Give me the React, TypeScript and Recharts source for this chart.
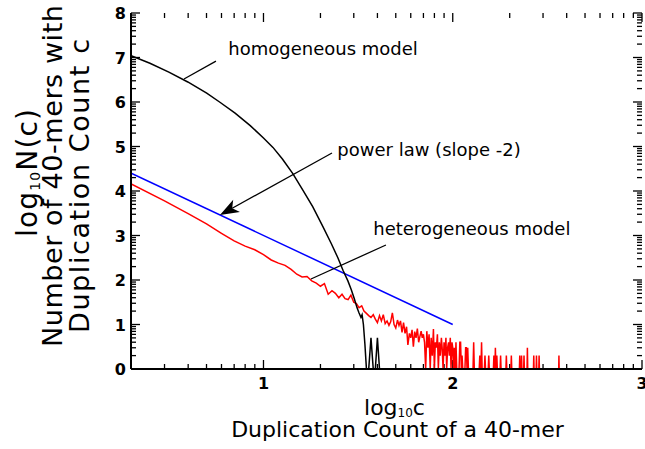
import React from 'react';
import { LineChart, Line, XAxis, YAxis, ReferenceLine, ReferenceDot } from 'recharts';

// ---------- data (x = log10 c, y = log10 N(c)) ----------
const homogeneousLogC = [0.301, 0.4, 0.5, 0.6, 0.7, 0.768, 0.85, 0.93, 1.0, 1.05, 1.1, 1.155, 1.208, 1.26, 1.314, 1.358, 1.393, 1.42, 1.446, 1.464, 1.48, 1.494, 1.505, 1.515, 1.521, 1.528, 1.536, 1.544, 1.556, 1.568, 1.58, 1.591, 1.602, 1.613];
const homogeneousLogN = [7.04, 6.87, 6.67, 6.45, 6.2, 6.0, 5.75, 5.47, 5.19, 4.98, 4.72, 4.39, 4.02, 3.65, 3.2, 2.82, 2.5, 2.22, 1.98, 1.78, 1.58, 1.38, 1.26, 1.16, 1.22, 1.0, 0.55, 0, 0, 0.7, 0, 0, 0.7, 0];

const powerLawLogC = [0.301, 2.0];
const powerLawLogN = [4.4, 1.0];

const heterogeneousLogC = [0.301, 0.477, 0.602, 0.699, 0.778, 0.845, 0.903, 0.954, 1.0, 1.041, 1.079, 1.114, 1.146, 1.176, 1.204, 1.23, 1.255, 1.279, 1.301, 1.322, 1.342, 1.362, 1.38, 1.398, 1.415, 1.431, 1.447, 1.462, 1.477, 1.491, 1.505, 1.519, 1.531, 1.544, 1.556, 1.568, 1.58, 1.591, 1.602, 1.613, 1.623, 1.633, 1.643, 1.653, 1.663, 1.672, 1.681, 1.69, 1.699, 1.708, 1.716, 1.724, 1.732, 1.74, 1.748, 1.756, 1.763, 1.771, 1.778, 1.785, 1.792, 1.799, 1.806, 1.813, 1.82, 1.826, 1.833, 1.839, 1.845, 1.851, 1.857, 1.863, 1.869, 1.875, 1.881, 1.886, 1.892, 1.898, 1.903, 1.908, 1.914, 1.919, 1.924, 1.929, 1.934, 1.94, 1.944, 1.949, 1.954, 1.959, 1.964, 1.968, 1.973, 1.978, 1.982, 1.987, 1.991, 1.996, 2.0];
const heterogeneousLogN = [4.16, 3.78, 3.49, 3.26, 3.05, 2.88, 2.76, 2.68, 2.57, 2.45, 2.38, 2.33, 2.24, 2.13, 2.07, 2.08, 1.98, 1.93, 1.86, 1.92, 1.68, 1.76, 1.7, 1.6, 1.68, 1.58, 1.56, 1.66, 1.5, 1.47, 1.38, 1.42, 1.3, 1.25, 1.2, 1.16, 1.22, 1.12, 1.04, 1.2, 1.08, 1.22, 1.02, 1.08, 0.98, 1.06, 1.26, 1.0, 0.92, 1.1, 0.98, 1.08, 0.82, 1.04, 0.8, 0.95, 0.54, 0.8, 0.7, 0.88, 0.5, 0.84, 0.7, 0.91, 0.6, 0.72, 0.85, 0.7, 0.78, 0.6, 0, 0.85, 0.48, 0.78, 0, 0.7, 0.3, 0.9, 0, 0.6, 0.48, 0.78, 0, 0.6, 0.3, 0.7, 0.48, 0, 0.6, 0.3, 0.7, 0, 0.48, 0.6, 0.3, 0.7, 0, 0.6, 0.48];
// sparse tail: duplication counts c that have N(c) > 1, with log10 N(c)
const tailCounts = [102, 104, 109, 110, 112, 117, 118, 120, 129, 139, 142, 148, 155, 165, 168, 171, 179, 192, 204, 226, 231, 238, 248, 268, 277, 286, 364];
const tailLogN = [0.477, 0.602, 0.602, 0.602, 0.301, 0.477, 0.477, 0.477, 0.602, 0.301, 0.602, 0.301, 0.301, 0.301, 0.477, 0.301, 0.301, 0.301, 0.301, 0.301, 0.301, 0.301, 0.477, 0.301, 0.301, 0.301, 0.301];

const xTickLabels = ['1', '2', '3'];
const yTickLabels = ['0', '1', '2', '3', '4', '5', '6', '7', '8'];
const minorMultipliers = [2, 3, 4, 5, 6, 7, 8, 9];

const annotationTexts = ['homogeneous model', 'power law (slope -2)', 'heterogeneous model'];
const annotationX = [0.814, 1.39, 1.58];
const annotationY = [7.056, 4.787, 3.011];
const leaderFromX = [0.749, 1.362, 1.647];
const leaderFromY = [6.92, 4.854, 2.787];
const leaderToX = [0.58, 0.77, 1.251];
const leaderToY = [6.517, 3.461, 2.022];
const leaderArrow = [false, true, false];

// ---------- build ----------
const zip = (xs: number[], ys: number[]) => xs.map((x, i) => ({ x, y: ys[i] }));
const blackData = zip(homogeneousLogC, homogeneousLogN);
const blueData = zip(powerLawLogC, powerLawLogN);
const redData = zip(heterogeneousLogC, heterogeneousLogN);
redData.push({ x: Math.log10(101), y: 0 });
tailCounts.forEach((c, i) => {
  if (!tailCounts.includes(c - 1) && c - 1 > 101) redData.push({ x: Math.log10(c - 1), y: 0 });
  redData.push({ x: Math.log10(c), y: tailLogN[i] });
  if (!tailCounts.includes(c + 1)) redData.push({ x: Math.log10(c + 1), y: 0 });
});

const xMajor = xTickLabels.map(Number);
const yMajor = yTickLabels.map(Number);
const xMinor: number[] = [];
[0, 1, 2].forEach((d) => minorMultipliers.forEach((m) => {
  const v = d + Math.log10(m);
  if (v > 0.3 && v < 3) xMinor.push(v);
}));
const yMinor: number[] = [];
[0, 1, 2, 3, 4, 5, 6, 7].forEach((d) => minorMultipliers.forEach((m) => yMinor.push(d + Math.log10(m))));

const FONT = '"DejaVu Sans", "Liberation Sans", sans-serif';
const MAJ = 9;
const MIN = 5;
const TW = 1.3;

// tick labels (text only)
const BottomLabel = (p: any) => {
  const { x, y, payload } = p;
  const i = xMajor.indexOf(payload.value);
  if (i < 0) return <g />;
  return (
    <text x={x} y={y + 20} textAnchor="middle" fontFamily={FONT} fontWeight="bold" fontSize={16} fill="#000">
      {xTickLabels[i]}
    </text>
  );
};
const LeftLabel = (p: any) => {
  const { x, y, payload } = p;
  const i = yMajor.indexOf(payload.value);
  if (i < 0) return <g />;
  return (
    <text x={x - 5} y={y + 6} textAnchor="end" fontFamily={FONT} fontWeight="bold" fontSize={16} fill="#000">
      {yTickLabels[i]}
    </text>
  );
};

// inward tick marks drawn on all four sides of the frame
const vTick = (len: number) => (p: any) => {
  const top = Math.min(p.y1, p.y2);
  const bot = Math.max(p.y1, p.y2);
  return (
    <g>
      <line x1={p.x1} x2={p.x1} y1={bot} y2={bot - len} stroke="#000" strokeWidth={TW} />
      <line x1={p.x1} x2={p.x1} y1={top} y2={top + len} stroke="#000" strokeWidth={TW} />
    </g>
  );
};
const hTick = (len: number) => (p: any) => {
  const left = Math.min(p.x1, p.x2);
  const right = Math.max(p.x1, p.x2);
  return (
    <g>
      <line x1={left} x2={left + len} y1={p.y1} y2={p.y1} stroke="#000" strokeWidth={TW} />
      <line x1={right} x2={right - len} y1={p.y1} y2={p.y1} stroke="#000" strokeWidth={TW} />
    </g>
  );
};

const XTitle = (p: any) => {
  const vb = p.viewBox;
  const cx = vb.x + vb.width / 2 + 8;
  return (
    <g fontFamily={FONT} fill="#000">
      <text x={cx} y={vb.y + 46} textAnchor="middle" fontSize={22}>
        log<tspan fontSize={12} dy={2}>10</tspan><tspan dy={-2}>c</tspan>
      </text>
      <text x={cx + 3} y={vb.y + 68} textAnchor="middle" fontSize={22}>Duplication Count of a 40-mer</text>
    </g>
  );
};

const YTitle = (p: any) => {
  const vb = p.viewBox;
  const l1 = { bx: vb.x + 37, cy: 173 };
  const l2 = { bx: vb.x + 62, cy: 176 };
  const l3 = { bx: vb.x + 89, cy: 186 };
  return (
    <g fontFamily={FONT} fill="#000" fontSize={27}>
      <text x={l1.bx} y={l1.cy} textAnchor="middle" transform={`rotate(-90 ${l1.bx} ${l1.cy})`} fontSize={28}
        textLength={128} lengthAdjust="spacing">
        log<tspan fontSize={14} dy={3}>10</tspan><tspan dy={-3}>N(c)</tspan>
      </text>
      <text x={l2.bx} y={l2.cy} textAnchor="middle" transform={`rotate(-90 ${l2.bx} ${l2.cy})`}
        textLength={342} lengthAdjust="spacing">
        Number of 40-mers with
      </text>
      <text x={l3.bx} y={l3.cy} textAnchor="middle" transform={`rotate(-90 ${l3.bx} ${l3.cy})`}
        textLength={294} lengthAdjust="spacing">
        Duplication Count c
      </text>
    </g>
  );
};

const PlainLeader = (p: any) => <line x1={p.x1} y1={p.y1} x2={p.x2} y2={p.y2} stroke="#000" strokeWidth={1.3} />;
const ArrowLeader = (p: any) => {
  const { x1, y1, x2, y2 } = p;
  const dx = x2 - x1;
  const dy = y2 - y1;
  const len = Math.hypot(dx, dy) || 1;
  const ux = dx / len;
  const uy = dy / len;
  const nx = -uy;
  const ny = ux;
  const L = 19;
  const W = 7;
  const N = 14;
  const bx = x2 - ux * L;
  const by = y2 - uy * L;
  const kx = x2 - ux * N;
  const ky = y2 - uy * N;
  return (
    <g>
      <line x1={x1} y1={y1} x2={kx} y2={ky} stroke="#000" strokeWidth={1.3} />
      <polygon points={`${x2},${y2} ${bx + nx * W},${by + ny * W} ${kx},${ky} ${bx - nx * W},${by - ny * W}`} fill="#000" />
    </g>
  );
};
const textShape = (label: string) => (p: any) => (
  <text x={p.cx} y={p.cy} fontFamily={FONT} fontSize={18} fill="#000">{label}</text>
);

const axisLine = { stroke: '#000', strokeWidth: 2 };

export default function App() {
  return (
    <div style={{ position: 'absolute', left: 0, top: 0, width: 645, height: 449, background: '#fff' }}>
      <LineChart width={645} height={449} margin={{ top: 13, right: 3, bottom: 0, left: 0 }}>
        <XAxis xAxisId="b" type="number" dataKey="x" domain={[0.3, 3]} allowDataOverflow ticks={xMajor} interval={0}
          tickSize={0} tickMargin={0} tickLine={false} tick={BottomLabel} height={80} axisLine={axisLine} label={{ content: XTitle }} />
        <XAxis xAxisId="t" orientation="top" type="number" dataKey="x" domain={[0.3, 3]} allowDataOverflow ticks={xMajor} interval={0}
          tickSize={0} tickLine={false} tick={false} height={0} axisLine={axisLine} />
        <YAxis yAxisId="l" type="number" domain={[0, 8]} allowDataOverflow ticks={yMajor} interval={0}
          tickSize={0} tickMargin={0} tickLine={false} tick={LeftLabel} width={131} axisLine={axisLine} label={{ content: YTitle }} />
        <YAxis yAxisId="r" orientation="right" type="number" domain={[0, 8]} allowDataOverflow ticks={yMajor} interval={0}
          tickSize={0} tickLine={false} tick={false} width={0} axisLine={axisLine} />
        {xMajor.map((v) => (
          <ReferenceLine key={'xM' + v} xAxisId="b" yAxisId="l" x={v} ifOverflow="extendDomain" shape={vTick(MAJ)} />
        ))}
        {xMinor.map((v) => (
          <ReferenceLine key={'xm' + v} xAxisId="b" yAxisId="l" x={v} shape={vTick(MIN)} />
        ))}
        {yMajor.map((v) => (
          <ReferenceLine key={'yM' + v} xAxisId="b" yAxisId="l" y={v} ifOverflow="extendDomain" shape={hTick(MAJ)} />
        ))}
        {yMinor.map((v) => (
          <ReferenceLine key={'ym' + v} xAxisId="b" yAxisId="l" y={v} shape={hTick(MIN)} />
        ))}
        <Line xAxisId="b" yAxisId="l" data={redData} dataKey="y" type="linear" stroke="#ff0000" strokeWidth={1.5} dot={false} isAnimationActive={false} />
        <Line xAxisId="b" yAxisId="l" data={blueData} dataKey="y" type="linear" stroke="#0000ff" strokeWidth={1.5} dot={false} isAnimationActive={false} />
        <Line xAxisId="b" yAxisId="l" data={blackData} dataKey="y" type="linear" stroke="#000" strokeWidth={1.5} dot={false} isAnimationActive={false} />
        {annotationTexts.map((t, i) => (
          <ReferenceLine key={'l' + i} xAxisId="b" yAxisId="l"
            segment={[{ x: leaderFromX[i], y: leaderFromY[i] }, { x: leaderToX[i], y: leaderToY[i] }]}
            shape={leaderArrow[i] ? ArrowLeader : PlainLeader} />
        ))}
        {annotationTexts.map((t, i) => (
          <ReferenceDot key={'t' + i} xAxisId="b" yAxisId="l" x={annotationX[i]} y={annotationY[i]} r={0} shape={textShape(t)} />
        ))}
      </LineChart>
    </div>
  );
}
